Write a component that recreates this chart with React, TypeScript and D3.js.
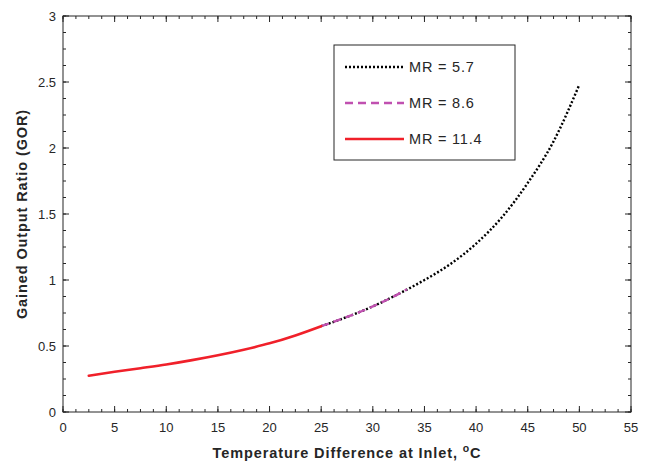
import React from "react";
import * as d3 from "d3";

const xTicks = [0, 5, 10, 15, 20, 25, 30, 35, 40, 45, 50, 55];
const yTicks = [0, 0.5, 1, 1.5, 2, 2.5, 3];
const yTickLabels = ["0", "0.5", "1", "1.5", "2", "2.5", "3"];

const mr57X = [25, 27.5, 30, 32.5, 35, 37.5, 40, 42.5, 45, 47.5, 50];
const mr57Y = [0.65, 0.72, 0.8, 0.895, 1.0, 1.12, 1.275, 1.475, 1.735, 2.05, 2.48];
const mr86X = [25, 27.5, 30, 32.5, 33.3];
const mr86Y = [0.65, 0.72, 0.8, 0.895, 0.93];
const mr114X = [2.5, 5, 7.5, 10, 12.5, 15, 17.5, 20, 22.5, 25];
const mr114Y = [0.275, 0.305, 0.332, 0.36, 0.393, 0.43, 0.472, 0.52, 0.58, 0.65];

const seriesNames = ["MR = 5.7", "MR = 8.6", "MR = 11.4"];

const W = 654, H = 464;
const L = 63, R = 631, T = 16, B = 412;
const axisColor = "#262626";
const font = "'Liberation Sans', Arial, Helvetica, sans-serif";

export default function App() {
  const x = d3.scaleLinear().domain([0, 55]).range([L, R]);
  const y = d3.scaleLinear().domain([0, 3]).range([B, T]);
  const line = d3
    .line<[number, number]>()
    .x((d) => x(d[0]))
    .y((d) => y(d[1]))
    .curve(d3.curveMonotoneX);

  const zip = (xs: number[], ys: number[]) => xs.map((v, i) => [v, ys[i]] as [number, number]);

  const series = [
    { data: zip(mr57X, mr57Y), color: "#000000", width: 2.4, dash: "2,2", cap: "butt" },
    { data: zip(mr86X, mr86Y), color: "#c050b0", width: 2.4, dash: "8,5", cap: "butt" },
    { data: zip(mr114X, mr114Y), color: "#f0202a", width: 2.6, dash: "", cap: "round" },
  ];

  const xMinor = d3.range(0, 55.001, 1.25);
  const yMinor = d3.range(0, 3.0001, 0.125);

  const legX0 = 334, legY0 = 45, legW = 181, legH = 115;
  const legRows = [67, 103, 139];

  return (
    <svg width={W} height={H} style={{ position: "absolute", left: 0, top: 0, background: "#fff" }}>
      <rect x={0} y={0} width={W} height={H} fill="#fff" />
      {series.map((s, i) => (
        <path
          key={i}
          d={line(s.data) || ""}
          fill="none"
          stroke={s.color}
          strokeWidth={s.width}
          strokeDasharray={s.dash || undefined}
          strokeLinecap={s.cap as any}
        />
      ))}
      <rect x={L} y={T} width={R - L} height={B - T} fill="none" stroke={axisColor} strokeWidth={1} />
      {xMinor.map((v, i) => (
        <g key={"xm" + i}>
          <line x1={x(v)} x2={x(v)} y1={B} y2={B - 3} stroke={axisColor} />
          <line x1={x(v)} x2={x(v)} y1={T} y2={T + 3} stroke={axisColor} />
        </g>
      ))}
      {yMinor.map((v, i) => (
        <g key={"ym" + i}>
          <line x1={L} x2={L + 3} y1={y(v)} y2={y(v)} stroke={axisColor} />
          <line x1={R} x2={R - 3} y1={y(v)} y2={y(v)} stroke={axisColor} />
        </g>
      ))}
      {xTicks.map((v) => (
        <g key={"x" + v}>
          <line x1={x(v)} x2={x(v)} y1={B} y2={B - 6} stroke={axisColor} />
          <line x1={x(v)} x2={x(v)} y1={T} y2={T + 6} stroke={axisColor} />
          <text x={x(v)} y={B + 20} textAnchor="middle" fontFamily={font} fontSize={13} fill={axisColor}>
            {v}
          </text>
        </g>
      ))}
      {yTicks.map((v, i) => (
        <g key={"y" + v}>
          <line x1={L} x2={L + 6} y1={y(v)} y2={y(v)} stroke={axisColor} />
          <line x1={R} x2={R - 6} y1={y(v)} y2={y(v)} stroke={axisColor} />
          <text x={L - 7} y={y(v) + 4.5} textAnchor="end" fontFamily={font} fontSize={13} fill={axisColor}>
            {yTickLabels[i]}
          </text>
        </g>
      ))}
      <text
        x={(L + R) / 2}
        y={458}
        textAnchor="middle"
        fontFamily={font}
        fontSize={14.5}
        fontWeight="bold"
        letterSpacing={0.9}
        fill={axisColor}
      >
        Temperature Difference at Inlet, <tspan dy={-6} fontSize={10.5}>o</tspan>
        <tspan dy={6}>C</tspan>
      </text>
      <text
        transform={`translate(27,${(T + B) / 2}) rotate(-90)`}
        textAnchor="middle"
        fontFamily={font}
        fontSize={14.5}
        fontWeight="bold"
        letterSpacing={0.9}
        fill={axisColor}
      >
        Gained Output Ratio (GOR)
      </text>
      <rect x={legX0} y={legY0} width={legW} height={legH} fill="#fff" stroke={axisColor} strokeWidth={1} />
      {series.map((s, i) => (
        <g key={"leg" + i}>
          <line
            x1={345}
            x2={404}
            y1={legRows[i]}
            y2={legRows[i]}
            stroke={s.color}
            strokeWidth={s.width}
            strokeDasharray={s.dash || undefined}
          />
          <text x={409} y={legRows[i] + 5} fontFamily={font} fontSize={14.5} letterSpacing={0.8} fill={axisColor}>
            {seriesNames[i]}
          </text>
        </g>
      ))}
    </svg>
  );
}
